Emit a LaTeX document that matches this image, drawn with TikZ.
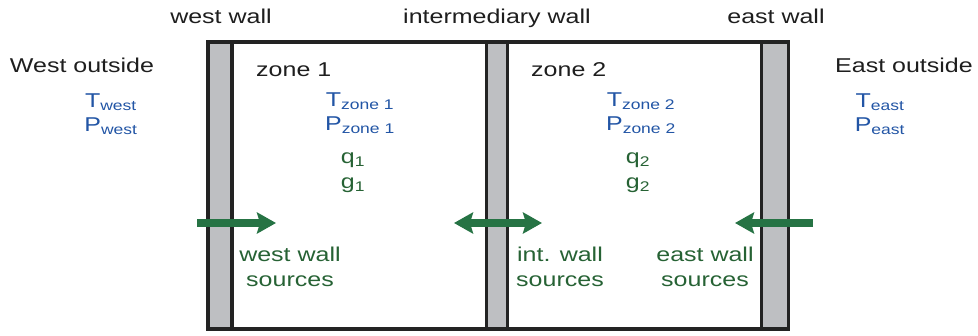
\documentclass[tikz,border=0pt]{standalone}
\usepackage{fontspec}
\setmainfont{Liberation Sans}
\usetikzlibrary{arrows.meta}
\definecolor{blueT}{RGB}{34,85,165}
\definecolor{greenT}{RGB}{38,98,52}
\definecolor{arrowG}{RGB}{38,115,68}
\definecolor{wallgray}{RGB}{190,191,194}
\definecolor{lineC}{RGB}{35,35,35}
\definecolor{textK}{RGB}{30,30,30}
\newcommand\sx[1]{\scalebox{1.25}[1]{#1}}
\begin{document}
\begin{tikzpicture}[x=1pt,y=-1pt,
  lbl/.style={font=\fontsize{20}{25}\selectfont, inner sep=0pt, anchor=base, text=textK},
  var/.style={lbl, text=blueT},
  gvar/.style={lbl, text=greenT},
  src/.style={lbl, text=greenT, align=center},
  wallbox/.style={fill=wallgray, draw=lineC, line width=3.5pt},
  zonebox/.style={draw=lineC, line width=3.5pt},
  flow/.style={draw=arrowG, line width=8pt},
  tip/.style={Stealth[length=19pt, width=21pt, inset=3pt]}
]
\useasboundingbox (0,0) rectangle (978,335);

% walls and zones
\draw[zonebox] (232,42) rectangle (486.5,329);
\draw[zonebox] (507.5,42) rectangle (761.5,329);
\draw[wallbox] (208,42) rectangle (232,329);
\draw[wallbox] (486.5,42) rectangle (507.5,329);
\draw[wallbox] (761.5,42) rectangle (788.5,329);

% headers
\node[lbl] (hw) at (221,23) {\sx{west wall}};
\node[lbl] (hi) at (497,23) {\sx{intermediary wall}};
\node[lbl] (he) at (776,23) {\sx{east wall}};

\node[lbl] (wo) at (82,72) {\sx{West outside}};
\node[lbl] (eo) at (904,72) {\sx{East outside}};
\node[lbl, anchor=base west] (z1) at (256,76) {\sx{zone 1}};
\node[lbl, anchor=base west] (z2) at (531,76) {\sx{zone 2}};

% variables
\node[var] (tw) at (111,107) {\sx{T\textsubscript{west}}};
\node[var] (pw) at (111,131) {\sx{P\textsubscript{west}}};
\node[var] (tz1) at (360,106) {\sx{T\textsubscript{zone 1}}};
\node[var] (pz1) at (360,130) {\sx{P\textsubscript{zone 1}}};
\node[gvar] (q1) at (353,163) {\sx{q\textsubscript{1}}};
\node[gvar] (g1) at (353,188) {\sx{g\textsubscript{1}}};
\node[var] (tz2) at (641,106) {\sx{T\textsubscript{zone 2}}};
\node[var] (pz2) at (641,130) {\sx{P\textsubscript{zone 2}}};
\node[gvar] (q2) at (638,163) {\sx{q\textsubscript{2}}};
\node[gvar] (g2) at (638,188) {\sx{g\textsubscript{2}}};
\node[var] (te) at (880,107) {\sx{T\textsubscript{east}}};
\node[var] (pe) at (880,131) {\sx{P\textsubscript{east}}};

% sources
\node[src] (sw) at (290,286) {\sx{west wall}\\\sx{sources}};
\node[src] (si) at (560,286) {\sx{int. wall}\\\sx{sources}};
\node[src] (se) at (705,286) {\sx{east wall}\\\sx{sources}};

% flows
\coordinate (wa) at (197,223);
\coordinate (wb) at (276,223);
\coordinate (ia) at (454,223);
\coordinate (ib) at (542,223);
\coordinate (ea) at (813,223);
\coordinate (eb) at (735,223);
\draw[flow, -{Stealth[length=19pt, width=21pt, inset=3pt]}] (wa) -- (wb);
\draw[flow, {Stealth[length=19pt, width=21pt, inset=3pt]}-{Stealth[length=19pt, width=21pt, inset=3pt]}] (ia) -- (ib);
\draw[flow, -{Stealth[length=19pt, width=21pt, inset=3pt]}] (ea) -- (eb);
\end{tikzpicture}
\end{document}
